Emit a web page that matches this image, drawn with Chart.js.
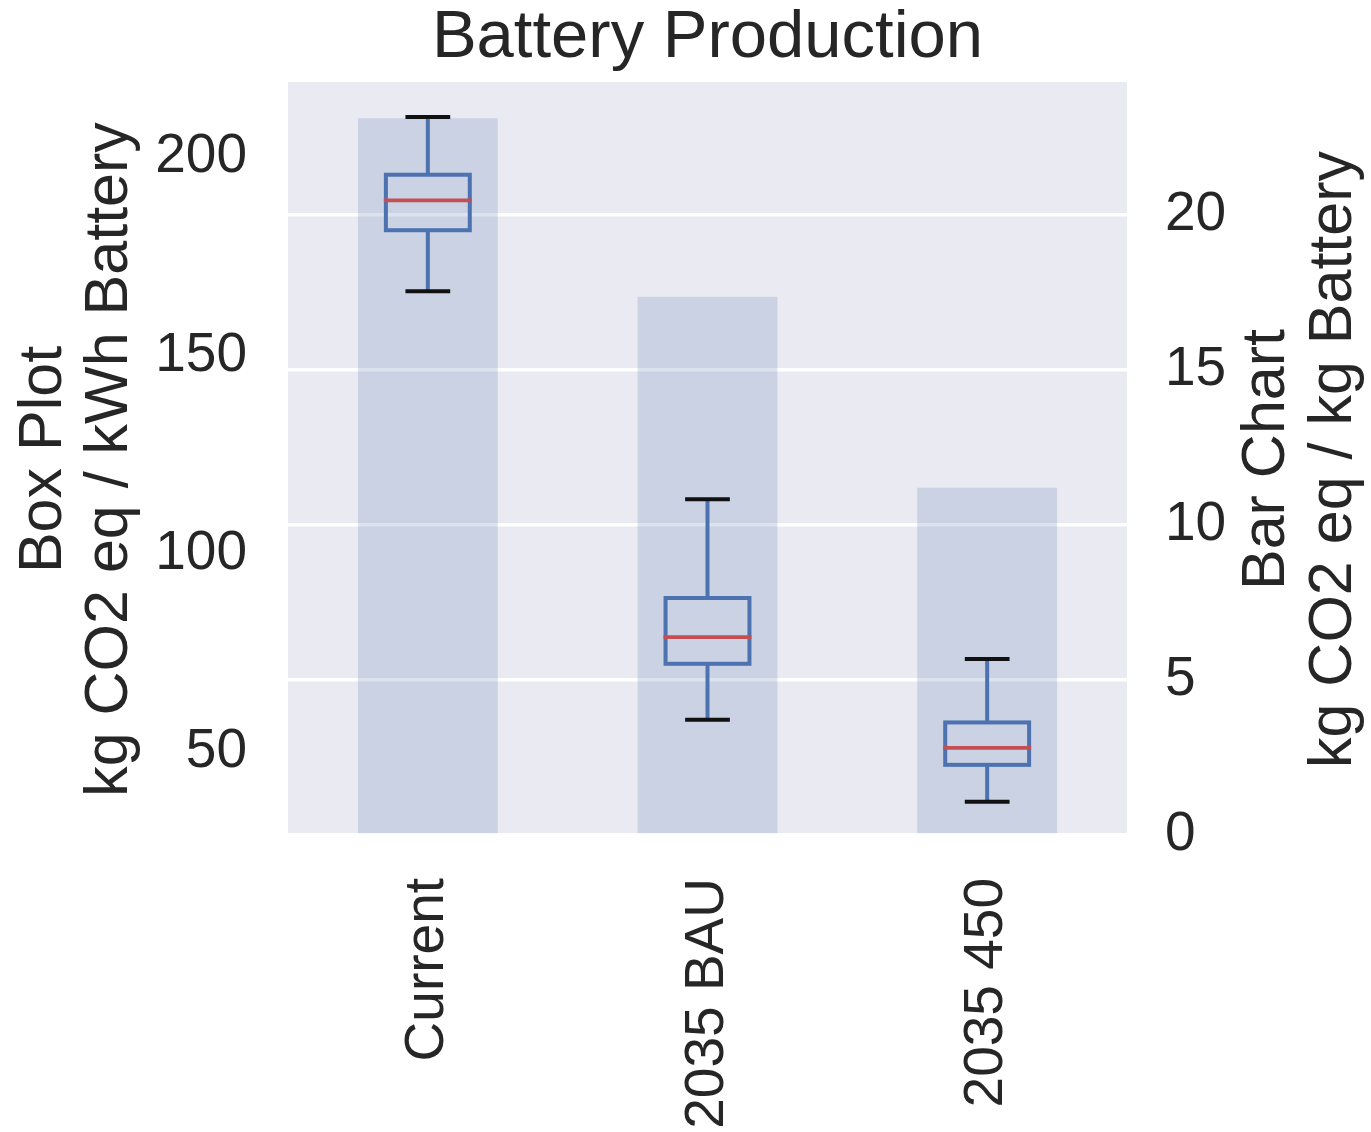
<!DOCTYPE html>
<html>
<head>
<meta charset="utf-8">
<title>Battery Production</title>
<script src="https://cdn.jsdelivr.net/npm/chart.js@4.4.1/dist/chart.umd.min.js"></script>
<style>
  html, body { margin: 0; padding: 0; background: #ffffff; }
  canvas { display: block; }
</style>
</head>
<body>
<canvas id="chart" width="1371" height="1132"></canvas>
<script>
// Scenario categories
const categories = ['Current', '2035 BAU', '2035 450'];

// Bar chart: kg CO2 eq per kg of battery
const barValues = [23.13, 17.37, 11.21];

// Box plot: kg CO2 eq per kWh of battery (five-number summaries)
const boxMin    = [166.2, 58.1, 37.4];
const boxQ1     = [181.6, 72.2, 46.7];
const boxMedian = [189.1, 78.9, 51.0];
const boxQ3     = [195.6, 88.8, 57.4];
const boxMax    = [210.2, 113.7, 73.4];

// Tick labels
const boxTicks = [50, 100, 150, 200];
const barTicks = [0, 5, 10, 15, 20];

// Texts
const chartTitle = 'Battery Production';
const boxAxisTitle = ['Box Plot', 'kg CO2 eq / kWh Battery'];
const barAxisTitle = ['Bar Chart', 'kg CO2 eq / kg Battery'];

const FONT = '"Liberation Sans", Arial, Helvetica, sans-serif';
const TEXT_COLOR = '#262626';
const BLUE = '#4C72B0';
const RED = '#C44E52';

// Plot-area background
const plotBackground = {
  id: 'plotBackground',
  beforeDraw(chart) {
    const { ctx, chartArea: a } = chart;
    ctx.save();
    ctx.fillStyle = '#EAEAF2';
    ctx.fillRect(a.left, a.top, a.right - a.left, a.bottom - a.top);
    ctx.restore();
  }
};

// Boxes, whiskers, caps and medians, placed with the category and box-plot scales
const boxPlot = {
  id: 'boxPlot',
  afterDatasetsDraw(chart) {
    const { ctx, scales } = chart;
    const x = scales.x, y = scales.yBox;
    const band = x.getPixelForValue(1) - x.getPixelForValue(0);
    const boxHalf = band * 0.30 / 2;
    const capHalf = band * 0.16 / 2;
    ctx.save();
    ctx.lineCap = 'butt';
    ctx.lineJoin = 'miter';
    categories.forEach((c, i) => {
      const cx = x.getPixelForValue(i);
      const pMin = y.getPixelForValue(boxMin[i]);
      const pQ1 = y.getPixelForValue(boxQ1[i]);
      const pMed = y.getPixelForValue(boxMedian[i]);
      const pQ3 = y.getPixelForValue(boxQ3[i]);
      const pMax = y.getPixelForValue(boxMax[i]);

      // whiskers
      ctx.strokeStyle = BLUE;
      ctx.lineWidth = 4;
      ctx.beginPath();
      ctx.moveTo(cx, pQ3); ctx.lineTo(cx, pMax);
      ctx.moveTo(cx, pQ1); ctx.lineTo(cx, pMin);
      ctx.stroke();

      // box (Q1 to Q3)
      ctx.strokeRect(cx - boxHalf, pQ3, boxHalf * 2, pQ1 - pQ3);

      // caps
      ctx.strokeStyle = '#111111';
      ctx.beginPath();
      ctx.moveTo(cx - capHalf, pMax); ctx.lineTo(cx + capHalf, pMax);
      ctx.moveTo(cx - capHalf, pMin); ctx.lineTo(cx + capHalf, pMin);
      ctx.stroke();

      // median
      ctx.strokeStyle = RED;
      ctx.lineWidth = 3.75;
      ctx.beginPath();
      ctx.moveTo(cx - boxHalf - 2, pMed); ctx.lineTo(cx + boxHalf + 2, pMed);
      ctx.stroke();
    });
    ctx.restore();
  }
};

// Title and the two rotated axis titles
const titles = {
  id: 'titles',
  afterDraw(chart) {
    const { ctx, chartArea: a } = chart;
    const cy = (a.top + a.bottom) / 2 + 1;
    ctx.save();
    ctx.fillStyle = TEXT_COLOR;
    ctx.textBaseline = 'alphabetic';
    ctx.textAlign = 'center';
    ctx.font = '67px ' + FONT;
    ctx.fillText(chartTitle, (a.left + a.right) / 2, 57);

    ctx.font = '61px ' + FONT;
    const drawRotated = (lines, baselines) => {
      lines.forEach((t, k) => {
        ctx.save();
        ctx.translate(baselines[k], cy);
        ctx.rotate(-Math.PI / 2);
        ctx.fillText(t, 0, 0);
        ctx.restore();
      });
    };
    drawRotated(boxAxisTitle, [a.left - 227, a.left - 161]);
    drawRotated(barAxisTitle, [a.right + 157, a.right + 224]);
    ctx.restore();
  }
};

new Chart(document.getElementById('chart'), {
  data: {
    labels: categories,
    datasets: [
      {
        type: 'bar',
        label: 'Bar Chart',
        data: barValues,
        yAxisID: 'yBar',
        backgroundColor: 'rgba(76, 114, 176, 0.2)',
        borderWidth: 0,
        barPercentage: 0.5,
        categoryPercentage: 1
      }
    ]
  },
  options: {
    responsive: false,
    devicePixelRatio: 1,
    animation: false,
    events: [],
    layout: { padding: { top: 82, left: 0, right: 0, bottom: 0 } },
    plugins: {
      legend: { display: false },
      tooltip: { enabled: false },
      title: { display: false }
    },
    scales: {
      x: {
        type: 'category',
        offset: true,
        grid: { display: false, drawTicks: false },
        border: { display: false },
        ticks: {
          color: TEXT_COLOR,
          font: { family: FONT, size: 55 },
          minRotation: 90,
          maxRotation: 90,
          padding: 43,
          autoSkip: false
        },
        afterFit(scale) { scale.height = 297; }
      },
      yBox: {
        type: 'linear',
        position: 'left',
        min: 29.0,
        max: 219.0,
        grid: { display: false, drawTicks: false },
        border: { display: false },
        ticks: {
          color: TEXT_COLOR,
          font: { family: FONT, size: 55 },
          padding: 41
        },
        afterBuildTicks(scale) { scale.ticks = boxTicks.map(v => ({ value: v })); },
        afterFit(scale) { scale.width = 288; }
      },
      yBar: {
        type: 'linear',
        position: 'right',
        min: 0,
        max: 24.3,
        grid: { display: true, color: '#FFFFFF', lineWidth: 3.5, drawTicks: false },
        border: { display: false },
        ticks: {
          color: TEXT_COLOR,
          font: { family: FONT, size: 55 },
          padding: 38
        },
        afterBuildTicks(scale) { scale.ticks = barTicks.map(v => ({ value: v })); },
        afterFit(scale) { scale.width = 244; }
      }
    }
  },
  plugins: [plotBackground, boxPlot, titles]
});
</script>
</body>
</html>
